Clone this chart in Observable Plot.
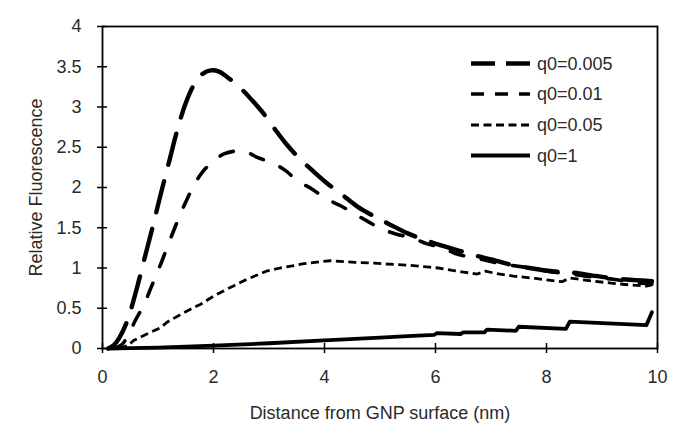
<!DOCTYPE html>
<html>
<head>
<meta charset="utf-8">
<script src="https://cdn.jsdelivr.net/npm/d3@7"></script>
<script src="https://cdn.jsdelivr.net/npm/@observablehq/plot@0.6"></script>
<style>
  html, body { margin: 0; padding: 0; background: #fff; }
  #chart { width: 685px; height: 433px; position: relative; }
  svg { font-family: "Liberation Sans", Arial, sans-serif; }
</style>
</head>
<body>
<div id="chart"></div>
<script>
// Series names (legend labels)
const seriesNames = ["q0=0.005", "q0=0.01", "q0=0.05", "q0=1"];

// q0=0.005
const x005 = [0.1, 0.2, 0.3, 0.45, 0.6, 0.75, 0.9, 1.05, 1.2, 1.35, 1.5, 1.65, 1.8, 1.95, 2.1, 2.25, 2.45, 2.7, 2.9, 3.1, 3.3, 3.55, 3.8, 4.05, 4.3, 4.6, 4.9, 5.15, 5.5, 5.8, 6.1, 6.5, 6.8, 7.1, 7.3, 7.7, 8.1, 8.45, 8.9, 9.3, 9.6, 9.9];
const y005 = [0, 0.04, 0.13, 0.35, 0.7, 1.1, 1.5, 1.92, 2.32, 2.72, 3.05, 3.28, 3.41, 3.455, 3.44, 3.37, 3.26, 3.08, 2.92, 2.73, 2.55, 2.36, 2.2, 2.05, 1.92, 1.76, 1.64, 1.55, 1.43, 1.35, 1.28, 1.2, 1.14, 1.09, 1.05, 1.0, 0.96, 0.945, 0.9, 0.865, 0.85, 0.835];

// q0=0.01
const x01 = [0.2, 0.35, 0.47, 0.6, 0.75, 0.9, 1.05, 1.2, 1.35, 1.5, 1.65, 1.8, 2.0, 2.2, 2.45, 2.6, 2.8, 3.05, 3.3, 3.5, 3.8, 4.0, 4.3, 4.55, 4.8, 5.05, 5.3, 5.55, 5.85, 6.1, 6.4, 6.7, 7.0, 7.3, 7.7, 8.1, 8.4, 8.8, 9.2, 9.6, 9.9];
const y01 = [0, 0.05, 0.18, 0.36, 0.55, 0.8, 1.05, 1.32, 1.58, 1.82, 2.03, 2.19, 2.33, 2.42, 2.455, 2.44, 2.37, 2.31, 2.21, 2.09, 1.97, 1.87, 1.77, 1.67, 1.57, 1.48, 1.42, 1.38, 1.30, 1.255, 1.17, 1.13, 1.08, 1.04, 1.0, 0.95, 0.93, 0.89, 0.86, 0.82, 0.80];

// q0=0.05
const x05 = [0.3, 0.47, 0.56, 0.8, 1.05, 1.17, 1.4, 1.65, 1.77, 2.0, 2.25, 2.37, 2.6, 2.85, 2.97, 3.2, 3.45, 3.6, 3.93, 4.1, 4.35, 4.55, 4.9, 5.1, 5.4, 5.6, 5.9, 6.05, 6.3, 6.5, 6.75, 6.9, 7.1, 7.4, 7.8, 8.2, 8.28, 8.42, 8.8, 9.2, 9.5, 9.8, 9.9];
const y05 = [0, 0.04, 0.1, 0.18, 0.26, 0.33, 0.42, 0.51, 0.55, 0.65, 0.74, 0.78, 0.86, 0.93, 0.965, 1.0, 1.03, 1.05, 1.08, 1.09, 1.08, 1.07, 1.06, 1.05, 1.04, 1.03, 1.01, 1.0, 0.97, 0.95, 0.925, 0.96, 0.93, 0.9, 0.87, 0.835, 0.83, 0.875, 0.84, 0.81, 0.79, 0.775, 0.79];

// q0=1
const x1 = [0.1, 0.5, 1, 2, 3, 4, 5, 5.5, 5.98, 6.02, 6.45, 6.5, 6.88, 6.93, 7.45, 7.5, 8.35, 8.42, 9.8, 9.9];
const y1 = [0, 0.005, 0.012, 0.035, 0.065, 0.1, 0.135, 0.155, 0.17, 0.19, 0.18, 0.2, 0.2, 0.235, 0.22, 0.27, 0.245, 0.335, 0.29, 0.45];

// Axis ticks
const xTicks = [0, 2, 4, 6, 8, 10];
const yTicks = [0, 0.5, 1, 1.5, 2, 2.5, 3, 3.5, 4];

const toRows = (xs, ys) => xs.map((x, i) => ({x, y: ys[i]}));

const styles = [
  {dash: "32,17", width: 4.4, cap: "round", curve: "catmull-rom"},
  {dash: "14,18", width: 3.6, cap: "round", curve: "catmull-rom"},
  {dash: "8,4.5", width: 2.8, cap: "butt", curve: "linear"},
  {dash: null, width: 3.8, cap: "round", curve: "linear"}
];
const seriesData = [toRows(x005, y005), toRows(x01, y01), toRows(x05, y05), toRows(x1, y1)];

const font = 18;
const textColor = "#2a2a2a";

const plot = Plot.plot({
  width: 685,
  height: 433,
  marginLeft: 102,
  marginRight: 28,
  marginTop: 26,
  marginBottom: 85,
  style: {fontFamily: '"Liberation Sans", Arial, sans-serif', fontSize: font + "px", color: textColor, background: "#fff"},
  x: {domain: [0, 10]},
  y: {domain: [0, 4]},
  marks: [
    ...seriesData.map((d, i) => Plot.line(d, {
      x: "x", y: "y",
      stroke: "#000",
      strokeWidth: styles[i].width,
      strokeDasharray: styles[i].dash,
      strokeLinecap: styles[i].cap,
      strokeLinejoin: "round",
      curve: styles[i].curve
    })),
    Plot.axisX({ticks: xTicks, tickSize: 10, dy: -5, tickPadding: 17, stroke: "#000", strokeWidth: 1.5, fill: textColor,
      label: "Distance from GNP surface (nm)", labelAnchor: "center", labelArrow: "none", labelOffset: 70}),
    Plot.axisY({ticks: yTicks, tickSize: 10, dx: 5, tickPadding: 16, stroke: "#000", strokeWidth: 1.5, fill: textColor,
      tickFormat: d => String(d),
      label: "Relative Fluorescence", labelAnchor: "center", labelArrow: "none", labelOffset: 73}),
    Plot.frame({stroke: "#000", strokeWidth: 1.8})
  ]
});

document.getElementById("chart").appendChild(plot);

// Legend drawn inside the SVG
const svg = d3.select(plot);
const leg = svg.append("g").attr("class", "legend");
const rowY = [63.5, 94, 125, 155.5];
seriesNames.forEach((name, i) => {
  leg.append("line")
    .attr("x1", 471).attr("x2", 530)
    .attr("y1", rowY[i]).attr("y2", rowY[i])
    .attr("stroke", "#000")
    .attr("stroke-width", styles[i].width)
    .attr("stroke-dasharray", i === 0 ? "24,11" : i === 1 ? "13,11" : i === 2 ? "8,4.5" : null)
    .attr("stroke-linecap", "butt");
  leg.append("text")
    .attr("x", 537).attr("y", rowY[i])
    .attr("dy", "0.36em")
    .attr("text-anchor", "start")
    .attr("fill", textColor)
    .attr("font-size", font)
    .text(name);
});
</script>
</body>
</html>
